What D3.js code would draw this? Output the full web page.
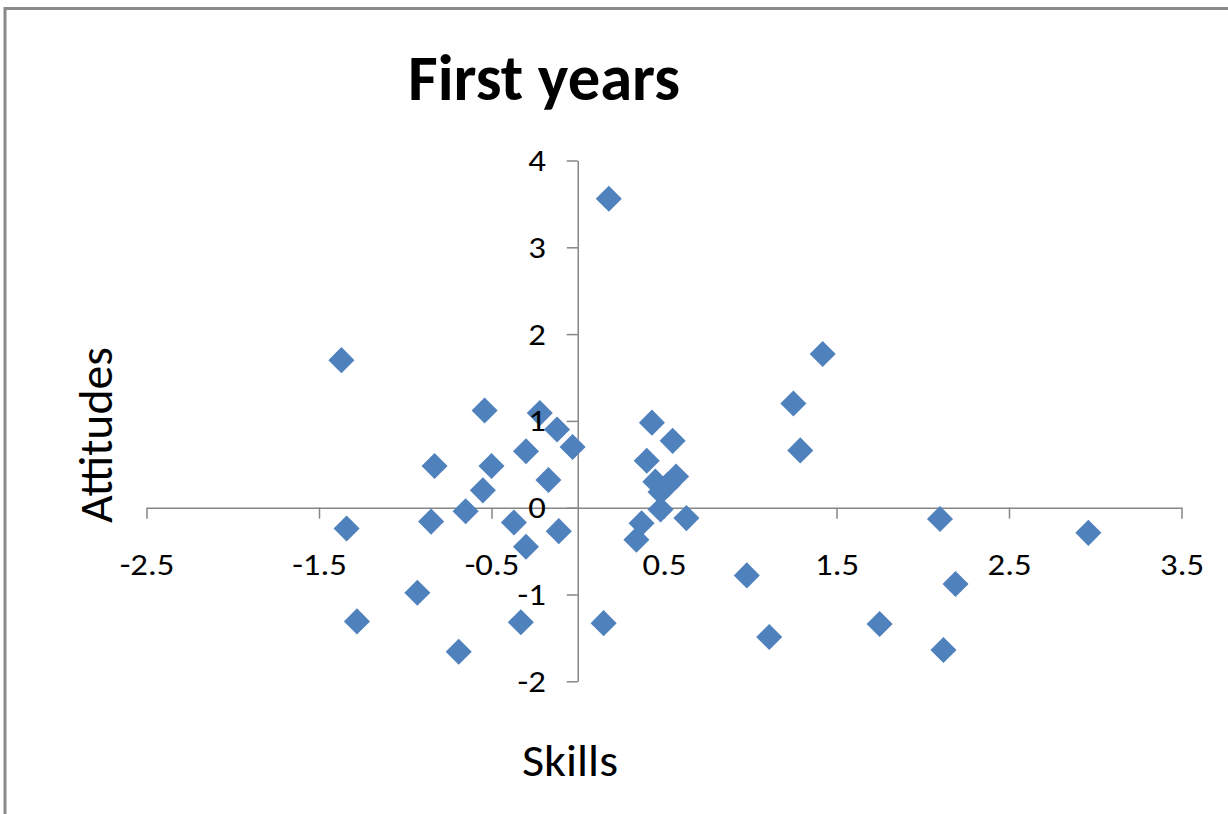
<!DOCTYPE html>
<html>
<head>
<meta charset="utf-8">
<script src="https://cdn.jsdelivr.net/npm/d3@7"></script>
<style>
  html, body { margin: 0; padding: 0; background: #ffffff; }
  svg { display: block; }
  text { font-family: Carlito, Calibri, Lato, "Open Sans", sans-serif; fill: #000; }
</style>
</head>
<body>
<svg id="chart" width="1228" height="814"></svg>
<script>
// Scatter of first-year students: skills score vs attitudes score
const skills = [
  0.18, -1.37, 1.42, 1.25, 1.29, -0.54, -0.22, -0.12, -0.03, -0.30,
  -0.83, -0.50, -0.17, -0.55, -0.65, -0.85, -0.37, -1.34, -0.11, -0.30,
  -0.93, -1.28, -0.33, -0.69, 0.15, 0.43, 0.55, 0.40, 0.57, 0.45,
  0.48, 0.52, 0.48, 0.63, 0.37, 0.34, 0.98, 1.11, 1.75, 2.12,
  2.10, 2.19, 2.96
];
const attitudes = [
  3.56, 1.70, 1.77, 1.20, 0.66, 1.12, 1.09, 0.90, 0.70, 0.65,
  0.48, 0.48, 0.32, 0.20, -0.04, -0.16, -0.17, -0.24, -0.27, -0.45,
  -0.98, -1.31, -1.32, -1.66, -1.33, 0.98, 0.77, 0.54, 0.36, 0.30,
  0.18, 0.26, -0.02, -0.12, -0.18, -0.37, -0.78, -1.49, -1.34, -1.64,
  -0.13, -0.88, -0.29
];

const xTicks = [-2.5, -1.5, -0.5, 0.5, 1.5, 2.5, 3.5];
const xTickLabels = ["-2.5", "-1.5", "-0.5", "0.5", "1.5", "2.5", "3.5"];
const yTicks = [-2, -1, 0, 1, 2, 3, 4];
const yTickLabels = ["-2", "-1", "0", "1", "2", "3", "4"];

const chartTitle = "First years";
const xTitle = "Skills";
const yTitle = "Attitudes";

const points = skills.map((s, i) => ({ x: s, y: attitudes[i] }));

const svg = d3.select("#chart");

// chart frame (top and left edges)
svg.append("path")
  .attr("d", "M5,814 L5,8.5 L1228,8.5")
  .attr("fill", "none")
  .attr("stroke", "#8a8a8a")
  .attr("stroke-width", 3);

const x = d3.scaleLinear().domain([-2.5, 3.5]).range([146.5, 1181.5]);
const y = d3.scaleLinear().domain([-2, 4]).range([681.3, 160.5]);

const axisColor = "#868686";
const tickFont = "31px";

function xAxisGen(withLabels) {
  return d3.axisBottom(x)
    .tickValues(xTicks)
    .tickFormat((d, i) => withLabels ? xTickLabels[i] : "")
    .tickSizeInner(11)
    .tickSizeOuter(0)
    .tickPadding(34);
}
function yAxisGen(withLabels) {
  return d3.axisLeft(y)
    .tickValues(yTicks)
    .tickFormat((d, i) => withLabels ? yTickLabels[i] : "")
    .tickSizeInner(11)
    .tickSizeOuter(0)
    .tickPadding(21);
}

// axis lines and tick marks
const gxLines = svg.append("g")
  .attr("transform", `translate(0,${y(0)})`)
  .call(xAxisGen(false));
const gyLines = svg.append("g")
  .attr("transform", `translate(${x(0)},0)`)
  .call(yAxisGen(false));
[gxLines, gyLines].forEach(g => {
  g.select(".domain").attr("stroke", axisColor).attr("stroke-width", 1.5);
  g.selectAll(".tick line").attr("stroke", axisColor).attr("stroke-width", 1.5);
  g.selectAll("text").remove();
});

// data markers (diamonds)
const diamond = d3.symbol().type(d3.symbolSquare).size(340);
svg.append("g")
  .selectAll("path")
  .data(points)
  .join("path")
  .attr("d", diamond)
  .attr("transform", d => `translate(${x(d.x)},${y(d.y)}) rotate(45)`)
  .attr("fill", "#4F81BD");

// tick labels on top of the markers
const gxText = svg.append("g")
  .attr("transform", `translate(0,${y(0)})`)
  .call(xAxisGen(true));
const gyText = svg.append("g")
  .attr("transform", `translate(${x(0)},0)`)
  .call(yAxisGen(true));
[gxText, gyText].forEach(g => {
  g.select(".domain").remove();
  g.selectAll(".tick line").remove();
  g.selectAll("text")
    .attr("fill", "#111")
    .style("font-size", tickFont)
    .style("font-family", 'Carlito, Calibri, Lato, "Open Sans", sans-serif')
    .each(function () {
      // slightly wider digits, as in the printed chart
      const len = this.getComputedTextLength();
      d3.select(this)
        .attr("textLength", len * 1.12)
        .attr("lengthAdjust", "spacingAndGlyphs");
    });
});

// titles
svg.append("text")
  .attr("x", 408)
  .attr("y", 100)
  .attr("textLength", 272)
  .attr("lengthAdjust", "spacingAndGlyphs")
  .style("font-size", "64px")
  .style("font-weight", "bold")
  .text(chartTitle);

svg.append("text")
  .attr("x", 522)
  .attr("y", 776)
  .attr("textLength", 96)
  .attr("lengthAdjust", "spacingAndGlyphs")
  .style("font-size", "46px")
  .text(xTitle);

svg.append("text")
  .attr("transform", "translate(112,523) rotate(-90)")
  .attr("x", 0)
  .attr("y", 0)
  .attr("textLength", 176)
  .attr("lengthAdjust", "spacingAndGlyphs")
  .style("font-size", "47px")
  .text(yTitle);
</script>
</body>
</html>
